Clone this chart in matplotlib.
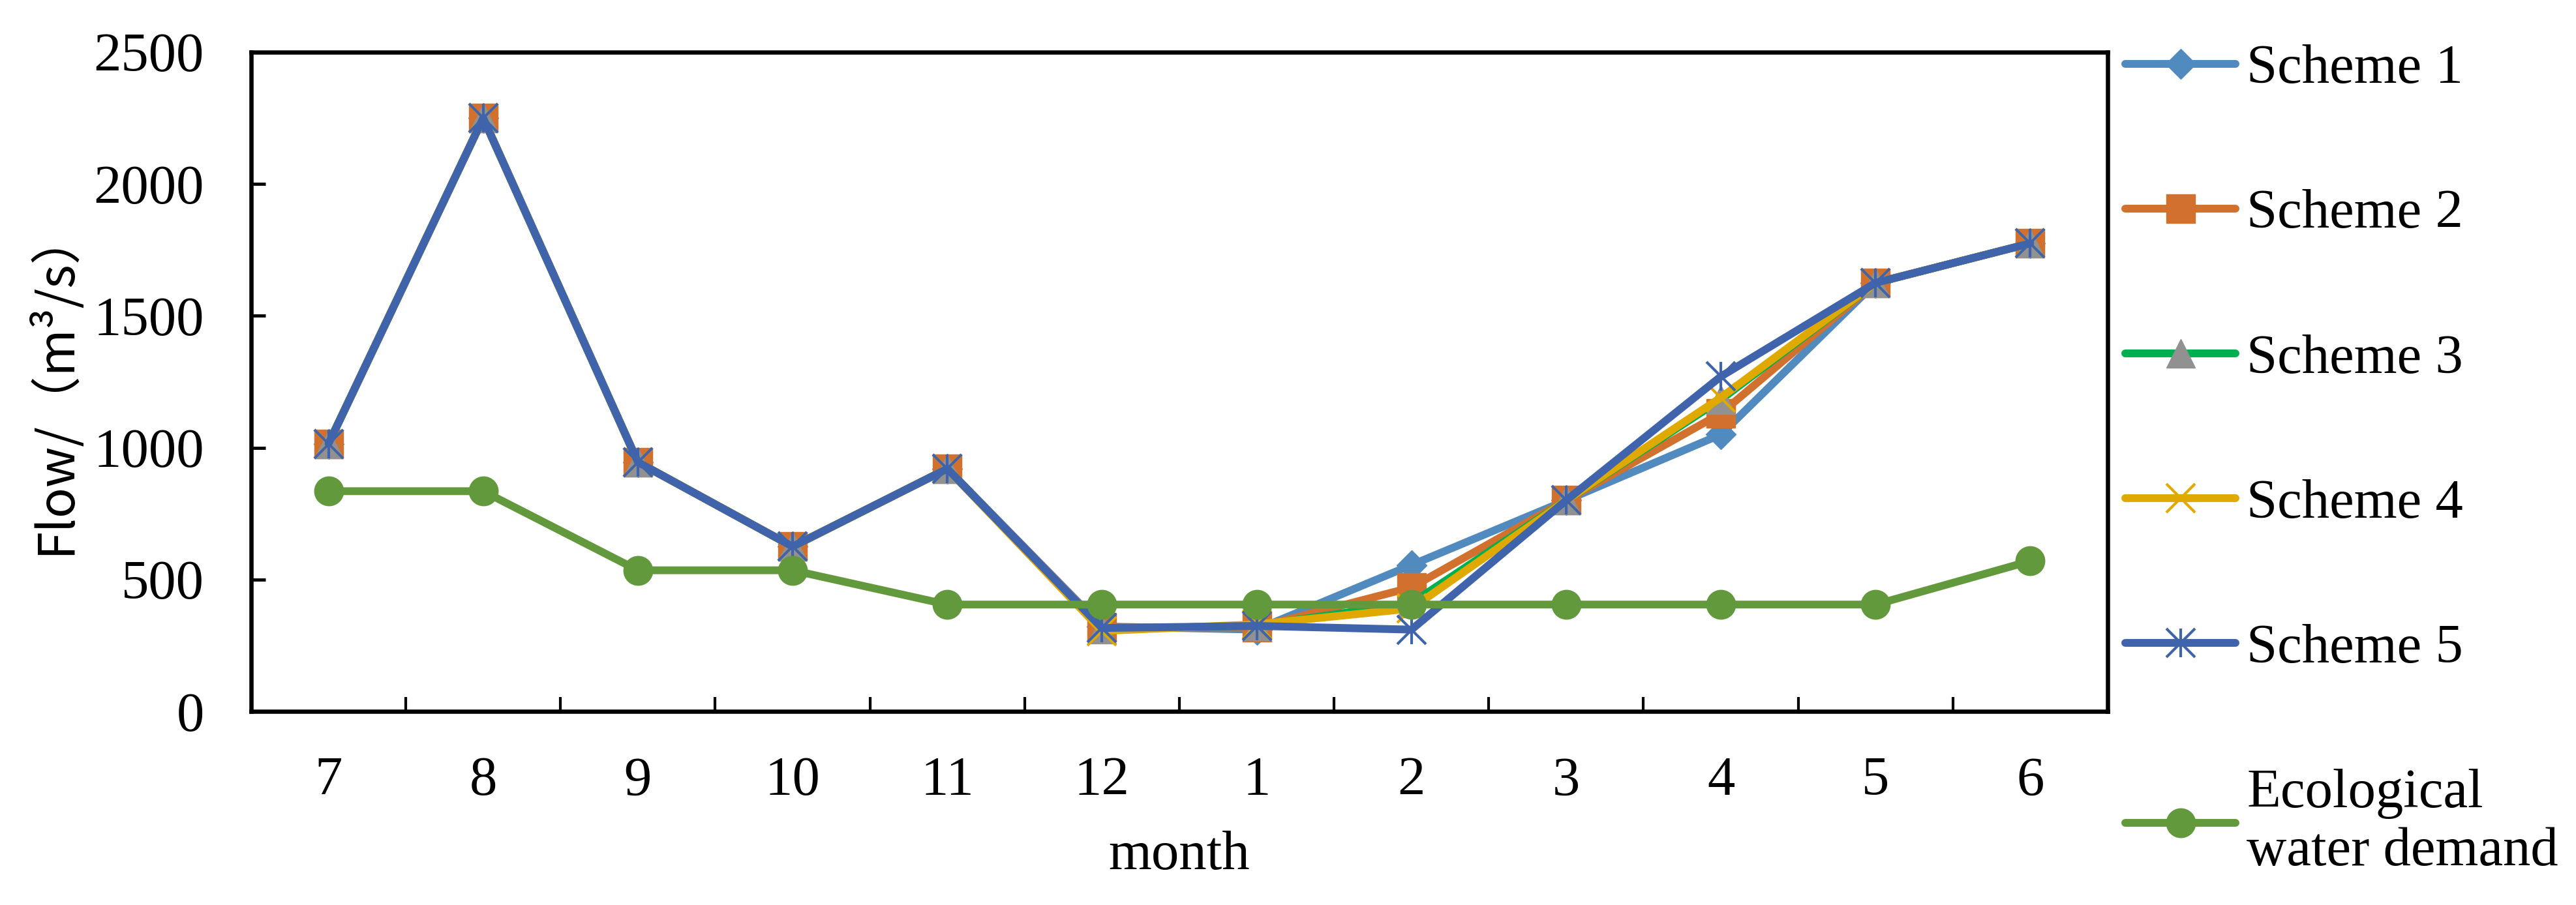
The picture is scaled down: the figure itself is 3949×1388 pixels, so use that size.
import numpy as np
import matplotlib
matplotlib.use('Agg')
import matplotlib.pyplot as plt
from matplotlib.legend_handler import HandlerTuple

months = ['7', '8', '9', '10', '11', '12', '1', '2', '3', '4', '5', '6']
scheme1 = [1015, 2250, 945, 625, 920, 322, 310, 555, 800, 1050, 1625, 1775]
scheme2 = [1015, 2250, 945, 625, 920, 318, 318, 470, 800, 1130, 1625, 1775]
scheme3 = [1015, 2250, 945, 625, 920, 312, 325, 410, 800, 1182, 1625, 1775]
scheme4 = [1015, 2250, 945, 625, 920, 305, 330, 390, 800, 1190, 1625, 1775]
scheme5 = [1015, 2250, 945, 625, 920, 316, 324, 310, 800, 1270, 1625, 1775]
eco = [835, 835, 535, 535, 405, 405, 405, 405, 405, 405, 405, 570]

plt.rcParams['font.family'] = ['Liberation Serif', 'DejaVu Serif']

fig = plt.figure(figsize=(39.49, 13.88), dpi=100)
ax = fig.add_axes([385 / 3949, 1 - 1091 / 1388, (3231 - 385) / 3949, (1091 - 80) / 1388])

x = np.arange(len(months))
lw = 8.6
ms = 32
common = dict(lw=lw, solid_joinstyle='round', solid_capstyle='round')

h1, = ax.plot(x, scheme1, color='#508ABE', marker='D', ms=23, mec='#508ABE', **common)
h2, = ax.plot(x, scheme2, color='#D2702D', marker='s', ms=ms, mec='#D2702D', **common)
h3, = ax.plot(x, scheme3, color='#00B050', marker='^', ms=ms, mfc='#919191', mec='#919191', **common)
h4, = ax.plot(x, scheme4, color='#DFA900', marker='x', ms=ms, mew=3, mec='#DFA900', **common)
h5, = ax.plot(x, scheme5, color='#3F64AC', marker='x', ms=ms, mew=3, mec='#3F64AC', **common)
h5b, = ax.plot(x, scheme5, ls='none', marker='|', ms=ms, mew=3, mec='#3F64AC')
h6, = ax.plot(x, eco, color='#63993D', marker='o', ms=ms, mec='#63993D', **common)

ax.set_xlim(-0.5, len(months) - 0.5)
ax.set_ylim(0, 2500)
ax.set_yticks(np.arange(0, 2501, 500))
ax.set_xticks(x)
ax.set_xticklabels(months)
ax.set_xticks(np.arange(0.5, len(months) - 1, 1), minor=True)

ax.tick_params(axis='x', which='major', length=0, pad=50, labelsize=61)
ax.tick_params(axis='x', which='minor', direction='in', length=16, width=3)
ax.tick_params(axis='y', which='major', direction='in', length=16, width=3.5, pad=52, labelsize=61)

for s in ax.spines.values():
    s.set_linewidth(4.7)

ax.set_xlabel('month', fontsize=61, labelpad=26)
ax.set_ylabel('Flow/（m³/s）', fontsize=56, family=['Noto Sans CJK SC', 'DejaVu Sans'], labelpad=13)

fig.legend([h1, h2, h3, h4, (h5, h5b), h6],
           ['Scheme 1', 'Scheme 2', 'Scheme 3', 'Scheme 4', 'Scheme 5', 'Ecological\nwater demand'],
           handler_map={tuple: HandlerTuple(ndivide=1)},
           loc='upper left', bbox_to_anchor=(3258 / 3949, 1 - 68 / 1388),
           frameon=False, fontsize=61, borderpad=0, borderaxespad=0,
           handlelength=2.0, handletextpad=0.2, labelspacing=1.71)

fig.savefig('out.png', dpi=100)
